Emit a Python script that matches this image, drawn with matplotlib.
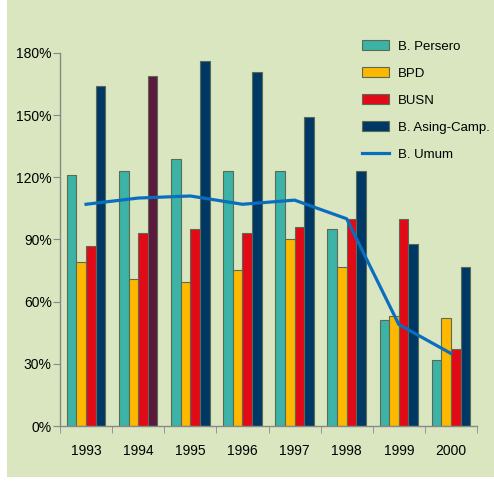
import matplotlib
matplotlib.use("Agg")
import matplotlib.pyplot as plt
from matplotlib.patches import Rectangle
import numpy as np

plt.rcParams["font.family"] = ["Liberation Sans", "DejaVu Sans"]

# ---------------------------------------------------------------------------
# Data (percent)
# ---------------------------------------------------------------------------
years = ["1993", "1994", "1995", "1996", "1997", "1998", "1999", "2000"]
persero = [121, 123, 129, 123, 123, 95, 51, 32]
bpd = [79, 71, 69.5, 75.5, 90, 76.5, 53, 52]
busn = [87, 93, 95, 93, 96, 100, 100, 37]
asing = [164, 169, 176, 171, 149, 123, 88, 76.5]
umum = [107, 110, 111, 107, 109, 100, 49, 35]

series_names = ["B. Persero", "BPD", "BUSN", "B. Asing-Camp."]
colors = ["#3DB2A6", "#FFB800", "#E20A16", "#003865"]
line_color = "#0A6EBE"
bg = "#D9E6C0"
edge = "#5A6B55"

fig = plt.figure(figsize=(4.94, 4.90), dpi=100, facecolor="white")
fig.patches.append(Rectangle((7 / 494, 13 / 490), 1, 1, transform=fig.transFigure,
                             facecolor=bg, edgecolor="none", zorder=-10))
ax = fig.add_axes([60 / 494, 1 - 426 / 490, 417 / 494, 373 / 490])
ax.set_facecolor("none")

x = np.arange(len(years))
w = 0.185
data = [persero, bpd, busn, asing]
for i, (vals, c, name) in enumerate(zip(data, colors, series_names)):
    ax.bar(x + (i - 1.5) * w, vals, width=w, color=c, edgecolor=edge,
           linewidth=0.8, label=name, zorder=2)
# 1994 foreign bank bar drawn in maroon in the original
ax.patches[3 * len(years) + 1].set_facecolor("#5B1A3B")

ax.plot(x, umum, color=line_color, linewidth=2.3, label="B. Umum", zorder=3)

ax.set_xlim(-0.5, len(years) - 0.5)
ax.set_ylim(0, 180)
ax.set_yticks(range(0, 181, 30))
ax.set_yticklabels([f"{v}%" for v in range(0, 181, 30)])
ax.set_xticks(x)
ax.set_xticklabels(years)
ax.set_xticks(np.arange(-0.5, len(years)), minor=True)
ax.tick_params(axis="x", which="major", length=0, pad=13, labelsize=10)
ax.tick_params(axis="x", which="minor", length=5, color="#888888", direction="out")
ax.tick_params(axis="y", length=5, color="#888888", direction="out", pad=1, labelsize=10)

for s in ["top", "right"]:
    ax.spines[s].set_visible(False)
for s in ["left", "bottom"]:
    ax.spines[s].set_color("#888888")
    ax.spines[s].set_linewidth(1.0)

handles, labels = ax.get_legend_handles_labels()
order = [1, 2, 3, 4, 0]
leg = ax.legend([handles[k] for k in order], [labels[k] for k in order],
                loc="upper left", bbox_to_anchor=(357 / 494, 1 - 35 / 490),
                bbox_transform=fig.transFigure, frameon=False, fontsize=9.5,
                handlelength=2.0, handleheight=0.7, labelspacing=1.12,
                handletextpad=0.7, borderaxespad=0)

fig.savefig("out.png", dpi=100, facecolor=fig.get_facecolor())
